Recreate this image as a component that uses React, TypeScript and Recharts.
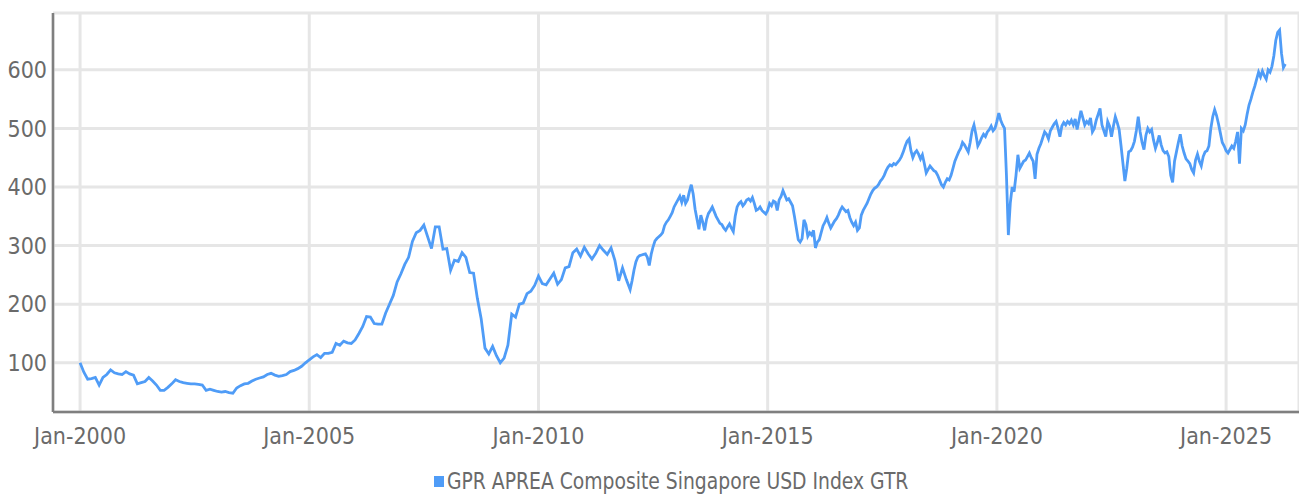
import { CartesianGrid, Line, LineChart, XAxis, YAxis } from "recharts";

// Monthly index levels, Jan-2000 .. Dec-2011
const monthly2000to2011 = [
  100, 84, 72, 73, 75, 62, 75, 80, 88, 83, 81, 80,
  85, 81, 79, 64, 66, 68, 75, 69, 62, 53, 53, 58,
  64, 71, 68, 66, 65, 64, 64, 63, 62, 53, 55, 53,
  51, 50, 51, 49, 48, 57, 61, 64, 65, 69, 72, 74,
  76, 80, 82, 79, 77, 78, 80, 85, 87, 90, 94, 100,
  105, 110, 114, 109, 116, 116, 118, 133, 130, 137, 134, 133,
  139, 150, 162, 179, 178, 167, 166, 166, 185, 200, 215, 238,
  252, 268, 280, 307, 322, 326, 335, 315, 295, 332, 332, 294,
  295, 258, 275, 273, 288, 280, 254, 253, 210, 175, 125, 115,
  128, 112, 100, 108, 130, 183, 178, 200, 202, 218, 222, 232,
  248, 235, 233, 243, 253, 234, 242, 262, 264, 288, 294, 282,
  297, 286, 277, 287, 300, 292, 285, 296, 275, 240, 262, 242,
];

// Twice-monthly levels from 2012 on
const half2012 = [225, 240, 258, 272, 280, 283, 284, 285, 286, 280, 266, 285, 298, 308, 312, 315, 318, 322, 334, 340, 344, 350, 356, 366];
const half2013 = [372, 378, 384, 374, 386, 372, 378, 392, 404, 388, 362, 345, 328, 352, 340, 326, 345, 355, 360, 366, 358, 350, 344, 338];
const half2014 = [336, 330, 326, 332, 337, 330, 324, 350, 366, 372, 375, 368, 372, 378, 380, 376, 382, 372, 360, 362, 366, 360, 357, 354];
const half2015 = [360, 372, 368, 376, 374, 360, 378, 384, 394, 386, 378, 380, 374, 368, 350, 330, 310, 306, 312, 344, 336, 316, 322, 318];
const half2016 = [326, 296, 306, 310, 322, 334, 340, 348, 338, 330, 336, 342, 346, 352, 360, 366, 362, 358, 360, 348, 340, 334, 340, 326];
const half2017 = [330, 352, 360, 366, 372, 380, 388, 394, 398, 400, 404, 410, 414, 420, 428, 434, 438, 436, 440, 438, 442, 446, 452, 460];
const half2018 = [470, 478, 482, 462, 450, 458, 462, 456, 448, 455, 440, 424, 430, 436, 432, 428, 426, 420, 412, 404, 400, 408, 414, 412];
const half2019 = [420, 432, 444, 452, 460, 466, 476, 472, 466, 460, 476, 496, 506, 490, 470, 476, 484, 490, 486, 494, 498, 504, 496, 500];
const half2020 = [512, 526, 514, 506, 500, 420, 318, 372, 400, 392, 420, 455, 432, 438, 444, 446, 452, 458, 450, 444, 414, 456, 466, 474];
const half2021 = [484, 494, 490, 482, 496, 502, 508, 512, 500, 486, 504, 510, 506, 512, 508, 514, 506, 516, 498, 514, 530, 518, 506, 512];
const half2022 = [508, 518, 494, 500, 514, 524, 534, 506, 496, 486, 512, 504, 486, 504, 520, 510, 498, 470, 440, 410, 432, 460, 462, 468];
const half2023 = [478, 496, 520, 494, 476, 464, 488, 500, 494, 498, 480, 466, 476, 488, 472, 462, 458, 460, 452, 420, 408, 444, 460, 476];
const half2024 = [490, 470, 458, 448, 444, 440, 430, 424, 446, 456, 444, 436, 452, 460, 462, 470, 500, 520, 532, 522, 508, 492, 476, 470];
const half2025 = [462, 458, 464, 470, 466, 478, 494, 440, 500, 496, 506, 524, 540, 550, 562, 572, 584, 596, 588, 598, 590, 584, 600, 596];
const half2026 = [606, 624, 650, 664, 668, 628, 604, 610];

const halfMonthly = [half2012, half2013, half2014, half2015, half2016, half2017, half2018, half2019, half2020, half2021, half2022, half2023, half2024, half2025, half2026];

const yearTicks = [2000, 2005, 2010, 2015, 2020, 2025];
const valueTicks = [100, 200, 300, 400, 500, 600];
const seriesName = "GPR APREA Composite Singapore USD Index GTR";

const data: { t: number; v: number }[] = [];
monthly2000to2011.forEach((v, i) => data.push({ t: 2000 + i / 12, v }));
halfMonthly.forEach((arr, k) => arr.forEach((v, i) => data.push({ t: 2012 + k + i / 24, v })));

const font = "'Liberation Sans Narrow', 'DejaVu Sans Condensed', Roboto, sans-serif";
const tickStyle = { fill: "#6a6a6a", fontSize: 23, fontFamily: font };
const blue = "#4f9cf7";

export default function App() {
  return (
    <div style={{ position: "absolute", left: 0, top: 0, width: 1299, height: 494, background: "#fff", overflow: "hidden" }}>
      <LineChart width={1299} height={494} data={data} margin={{ top: 13, right: 0, bottom: 42, left: 0 }}>
        <CartesianGrid stroke="#e6e6e6" strokeWidth={3} />
        <XAxis
          dataKey="t"
          type="number"
          domain={[1999.41, 2026.59]}
          ticks={yearTicks}
          tickFormatter={(y: number) => `Jan-${y}`}
          height={40}
          tickLine={false}
          tickSize={0}
          tickMargin={16}
          axisLine={{ stroke: "#7f7f7f", strokeWidth: 2.5 }}
          tick={tickStyle}
          allowDataOverflow
        />
        <YAxis
          type="number"
          domain={[16, 697]}
          ticks={valueTicks}
          width={53}
          tickLine={false}
          tickSize={0}
          tickMargin={6}
          axisLine={{ stroke: "#7f7f7f", strokeWidth: 2.5 }}
          tick={tickStyle}
          allowDataOverflow
        />
        <Line dataKey="v" name={seriesName} type="linear" stroke={blue} strokeWidth={2.8} dot={false} isAnimationActive={false} />
      </LineChart>
      <div style={{ position: "absolute", left: 434, top: 468, display: "flex", alignItems: "center", fontFamily: font, fontSize: 23, color: "#6a6a6a", whiteSpace: "nowrap" }}>
        <span style={{ display: "inline-block", width: 10, height: 11, background: blue, marginRight: 3 }} />
        <span style={{ display: "inline-block", transform: "scaleX(0.907)", transformOrigin: "left center" }}>{seriesName}</span>
      </div>
    </div>
  );
}
